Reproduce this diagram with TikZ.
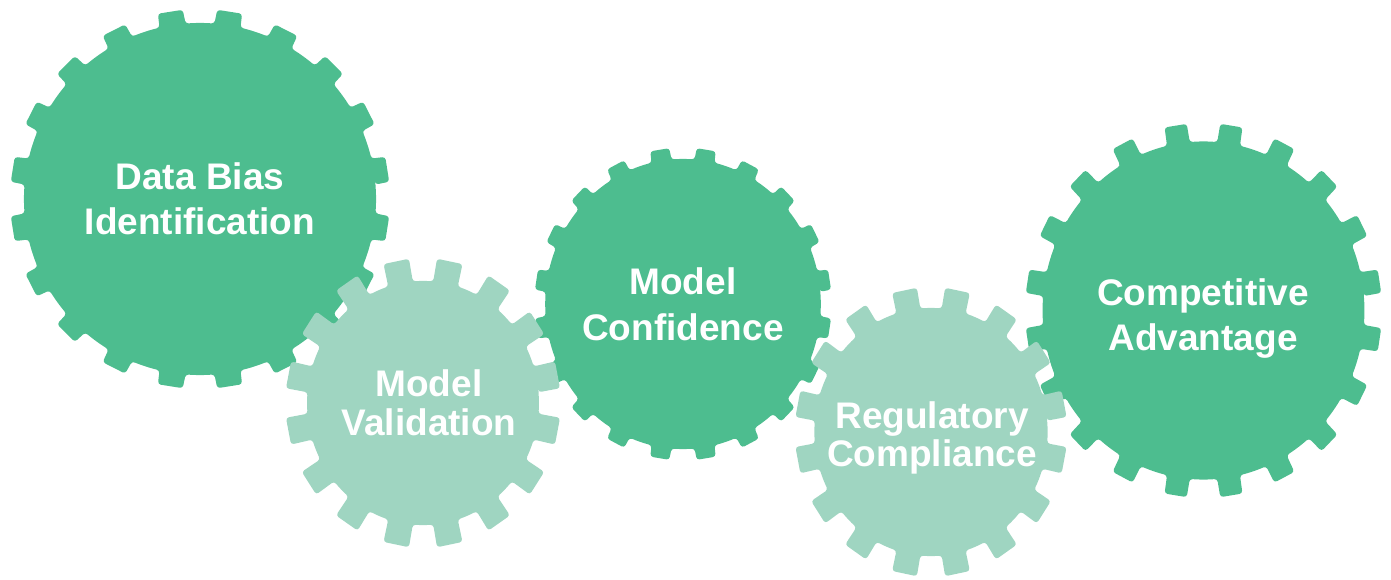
\documentclass[tikz,border=0pt]{standalone}
\usepackage{fontspec}
\setmainfont{Liberation Sans}
\definecolor{geardark}{RGB}{77,189,143}
\definecolor{gearlight}{RGB}{159,213,193}
% gear: #1 centre, #2 horizontal squash, #3 teeth, #4 tip radius,
%       #5 root radius, #6 tooth half-angle at root, #7 tooth half-angle at tip, #8 colour
\newcommand\drawgear[8]{%
  \pgfmathsetmacro\gstep{360/#3}%
  \pgfmathsetmacro\goff{\gstep/2}%
  \begin{scope}[shift={#1}, xscale=#2]
    \fill[#8, rounded corners=3pt] ({\goff-#6}:#5)
      \foreach \k in {1,...,#3}{
        -- ({\goff+(\k-1)*\gstep-#7}:#4)
        -- ({\goff+(\k-1)*\gstep+#7}:#4)
        -- ({\goff+(\k-1)*\gstep+#6}:#5)
        arc[start angle={\goff+(\k-1)*\gstep+#6}, end angle={\goff+\k*\gstep-#6}, radius=#5]
      } -- cycle;
  \end{scope}}
\begin{document}
\begin{tikzpicture}[x=1pt, y=1pt,
  gearlabel/.style={text=white, font=\fontsize{37}{44}\selectfont\bfseries,
                    anchor=base, inner sep=0pt}]
\useasboundingbox (0,0) rectangle (1391,579);

% back row of dark gears
\drawgear{(200,380)}{1.0}{20}{190}{176}{4.3}{3.8}{geardark}
\drawgear{(683,275)}{0.95}{20}{156.5}{145}{4.2}{3.7}{geardark}
\drawgear{(1203.5,268.5)}{0.952}{20}{187.5}{169}{4.1}{3.6}{geardark}

% light gears sitting in front
\drawgear{(423,176)}{0.95}{16}{145}{122}{6.2}{5.4}{gearlight}
\drawgear{(931,147)}{0.94}{16}{145}{124}{6.0}{5.3}{gearlight}

% labels
\node[gearlabel] (bias1)  at (200,389)   {Data Bias};
\node[gearlabel] (bias2)  at (200,344)   {Identification};
\node[gearlabel] (valid1) at (429,182.3) {Model};
\node[gearlabel] (valid2) at (429,143.3) {Validation};
\node[gearlabel] (conf1)  at (683,284)   {Model};
\node[gearlabel] (conf2)  at (683,239)   {Confidence};
\node[gearlabel] (reg1)   at (932,151)   {Regulatory};
\node[gearlabel] (reg2)   at (932,112.3) {Compliance};
\node[gearlabel] (comp1)  at (1203,274)  {Competitive};
\node[gearlabel] (comp2)  at (1203,229)  {Advantage};
\end{tikzpicture}
\end{document}
